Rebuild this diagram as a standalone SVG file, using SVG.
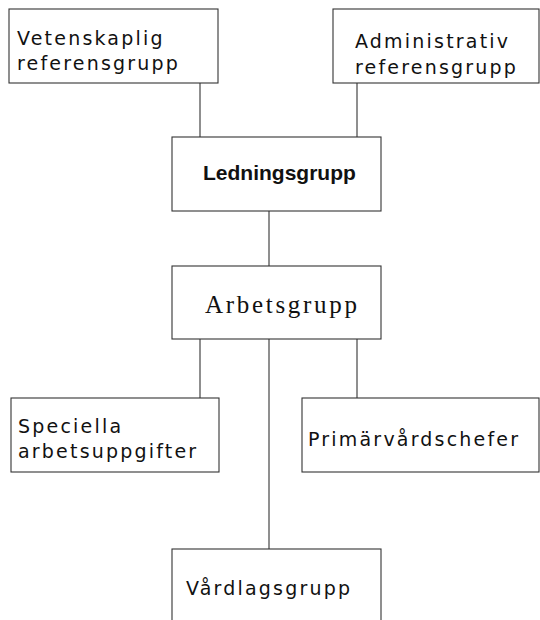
<svg xmlns="http://www.w3.org/2000/svg" width="540" height="620" viewBox="0 0 540 620">
<style>
.box{fill:#fff;stroke:#333;stroke-width:1.1}
.lbl{font-family:"DejaVu Sans",sans-serif;font-size:19px;letter-spacing:2.2px;fill:#111}
.bold{font-family:"Liberation Sans",Arial,sans-serif;font-weight:bold;font-size:21px;fill:#111}
.serif{font-family:"Liberation Serif","Times New Roman",serif;font-size:25px;letter-spacing:2.7px;fill:#111}
.conn{stroke:#333;stroke-width:1.1;fill:none}
</style>
<rect width="540" height="620" fill="#fff"/>
<g id="connectors">
<line class="conn" x1="200" y1="83" x2="200" y2="137"/>
<line class="conn" x1="357" y1="83" x2="357" y2="137"/>
<line class="conn" x1="269" y1="211" x2="269" y2="266"/>
<line class="conn" x1="200" y1="339" x2="200" y2="398"/>
<line class="conn" x1="357" y1="339" x2="357" y2="398"/>
<line class="conn" x1="269" y1="339" x2="269" y2="549"/>
</g>
<g id="vetenskaplig">
<rect class="box" x="9" y="9" width="209" height="74"/>
<text class="lbl" x="17" y="45">Vetenskaplig</text>
<text class="lbl" x="17" y="70">referensgrupp</text>
</g>
<g id="administrativ">
<rect class="box" x="333" y="9" width="206" height="74"/>
<text class="lbl" x="355" y="48">Administrativ</text>
<text class="lbl" x="355" y="74">referensgrupp</text>
</g>
<g id="ledningsgrupp">
<rect class="box" x="172" y="137" width="209" height="74"/>
<text class="bold" x="203" y="180">Ledningsgrupp</text>
</g>
<g id="arbetsgrupp">
<rect class="box" x="172" y="266" width="209" height="73"/>
<text class="serif" x="205" y="313">Arbetsgrupp</text>
</g>
<g id="speciella">
<rect class="box" x="11" y="398" width="208" height="74"/>
<text class="lbl" x="18" y="433">Speciella</text>
<text class="lbl" x="18" y="458">arbetsuppgifter</text>
</g>
<g id="primarvardschefer">
<rect class="box" x="302" y="398" width="237" height="74"/>
<text class="lbl" x="308" y="446">Primärvårdschefer</text>
</g>
<g id="vardlagsgrupp">
<rect class="box" x="172" y="549" width="209" height="90"/>
<text class="lbl" x="186" y="595">Vårdlagsgrupp</text>
</g>
</svg>
